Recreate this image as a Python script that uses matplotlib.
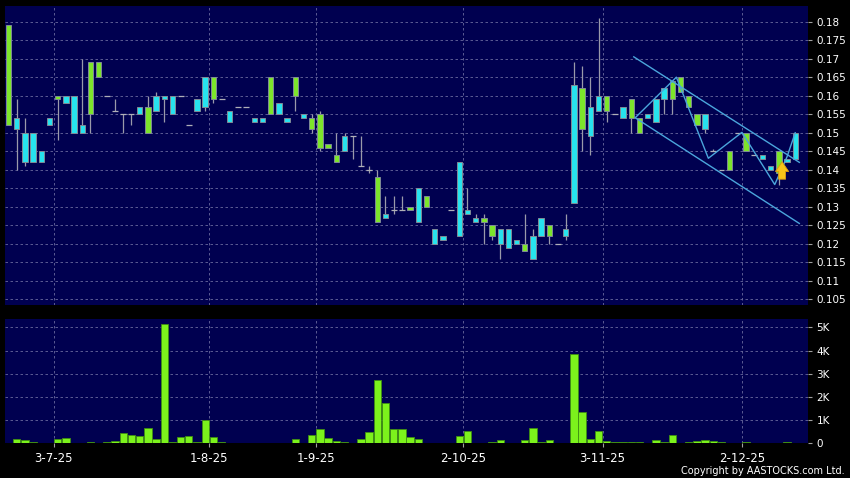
import numpy as np
import matplotlib
matplotlib.use("Agg")
import matplotlib.pyplot as plt

# daily candles (oldest first)
opens = [0.179, 0.151, 0.142, 0.142, 0.142, 0.152, 0.160, 0.158, 0.150, 0.150,
         0.169, 0.169, 0.160, 0.156, 0.155, 0.155, 0.155, 0.157, 0.156, 0.159,
         0.155, 0.160, 0.152, 0.156, 0.157, 0.165, 0.159, 0.153, 0.157, 0.157,
         0.153, 0.153, 0.165, 0.155, 0.153, 0.165, 0.154, 0.154, 0.155, 0.147,
         0.144, 0.145, 0.149, 0.141, 0.140, 0.138, 0.127, 0.129, 0.129, 0.130,
         0.126, 0.133, 0.120, 0.121, 0.129, 0.122, 0.128, 0.126, 0.127, 0.125,
         0.120, 0.119, 0.120, 0.120, 0.116, 0.122, 0.125, 0.120, 0.122, 0.131,
         0.162, 0.149, 0.156, 0.160, 0.155, 0.154, 0.159, 0.154, 0.154, 0.153,
         0.159, 0.164, 0.165, 0.160, 0.155, 0.151, 0.145, 0.140, 0.145, 0.150,
         0.150, 0.144, 0.143, 0.140, 0.145, 0.142, 0.143]
highs = [0.179, 0.159, 0.154, 0.150, 0.145, 0.154, 0.160, 0.160, 0.160, 0.170,
         0.169, 0.169, 0.160, 0.159, 0.155, 0.155, 0.157, 0.160, 0.161, 0.160,
         0.160, 0.160, 0.152, 0.159, 0.165, 0.165, 0.159, 0.156, 0.157, 0.157,
         0.154, 0.154, 0.165, 0.158, 0.154, 0.165, 0.155, 0.155, 0.156, 0.147,
         0.150, 0.150, 0.149, 0.149, 0.141, 0.140, 0.133, 0.133, 0.133, 0.130,
         0.135, 0.133, 0.124, 0.122, 0.129, 0.142, 0.135, 0.128, 0.128, 0.125,
         0.124, 0.124, 0.121, 0.128, 0.124, 0.127, 0.125, 0.120, 0.128, 0.169,
         0.168, 0.165, 0.181, 0.160, 0.155, 0.157, 0.159, 0.154, 0.155, 0.159,
         0.162, 0.164, 0.165, 0.160, 0.155, 0.155, 0.1455, 0.140, 0.145, 0.150,
         0.150, 0.144, 0.144, 0.141, 0.145, 0.143, 0.150]
lows = [0.152, 0.140, 0.141, 0.142, 0.142, 0.152, 0.148, 0.158, 0.150, 0.150,
        0.150, 0.165, 0.160, 0.156, 0.150, 0.152, 0.155, 0.150, 0.156, 0.153,
        0.155, 0.160, 0.152, 0.156, 0.156, 0.158, 0.159, 0.153, 0.157, 0.157,
        0.153, 0.153, 0.155, 0.155, 0.153, 0.156, 0.154, 0.150, 0.145, 0.146,
        0.142, 0.145, 0.143, 0.141, 0.139, 0.126, 0.127, 0.128, 0.129, 0.129,
        0.126, 0.130, 0.120, 0.121, 0.129, 0.122, 0.128, 0.126, 0.120, 0.121,
        0.116, 0.119, 0.120, 0.118, 0.116, 0.122, 0.120, 0.120, 0.121, 0.131,
        0.145, 0.144, 0.156, 0.153, 0.155, 0.154, 0.150, 0.150, 0.154, 0.153,
        0.155, 0.155, 0.161, 0.157, 0.152, 0.150, 0.145, 0.140, 0.140, 0.150,
        0.145, 0.144, 0.143, 0.140, 0.136, 0.142, 0.143]
closes = [0.152, 0.154, 0.150, 0.150, 0.145, 0.154, 0.159, 0.160, 0.160, 0.152,
          0.155, 0.165, 0.160, 0.156, 0.155, 0.155, 0.157, 0.150, 0.160, 0.160,
          0.160, 0.160, 0.152, 0.159, 0.165, 0.159, 0.159, 0.156, 0.157, 0.157,
          0.154, 0.154, 0.155, 0.158, 0.154, 0.160, 0.155, 0.151, 0.146, 0.146,
          0.142, 0.149, 0.149, 0.141, 0.140, 0.126, 0.128, 0.129, 0.129, 0.129,
          0.135, 0.130, 0.124, 0.122, 0.129, 0.142, 0.129, 0.127, 0.126, 0.122,
          0.124, 0.124, 0.121, 0.118, 0.122, 0.127, 0.122, 0.120, 0.124, 0.163,
          0.151, 0.157, 0.160, 0.156, 0.155, 0.157, 0.154, 0.150, 0.155, 0.159,
          0.162, 0.159, 0.161, 0.157, 0.152, 0.155, 0.145, 0.140, 0.140, 0.150,
          0.145, 0.144, 0.144, 0.141, 0.139, 0.143, 0.150]
# volume in thousands
volumes = [0, 0.19, 0.14, 0.06, 0.03, 0.01, 0.19, 0.25, 0, 0,
           0.06, 0.01, 0.06, 0.10, 0.43, 0.36, 0.30, 0.64, 0.17, 5.13,
           0.04, 0.26, 0.30, 0.04, 1.01, 0.28, 0.04, 0, 0, 0,
           0, 0, 0, 0.01, 0.03, 0.19, 0.03, 0.35, 0.62, 0.25,
           0.10, 0.07, 0.01, 0.20, 0.48, 2.72, 1.72, 0.62, 0.62, 0.28,
           0.20, 0, 0.02, 0, 0, 0.32, 0.55, 0.02, 0.02, 0.04,
           0.14, 0.03, 0, 0.14, 0.64, 0.04, 0.14, 0, 0.03, 3.83,
           1.33, 0.19, 0.51, 0.12, 0.07, 0.07, 0.04, 0.04, 0, 0.14,
           0.04, 0.36, 0, 0.04, 0.12, 0.13, 0.09, 0.06, 0, 0,
           0.04, 0, 0.03, 0, 0, 0.04, 0.03]

date_ticks = [5.5, 24.5, 37.5, 55.5, 72.5, 89.5]
date_labels = ["3-7-25", "1-8-25", "1-9-25", "2-10-25", "3-11-25", "2-12-25"]

# hand-drawn channel and zigzag (candle index, price)
chan_upper_x, chan_upper_y = [76.3, 96.5], [0.1705, 0.142]
chan_lower_x, chan_lower_y = [76.5, 96.5], [0.154, 0.1255]
zig_x = [76.5, 81.5, 85.4, 89.5, 93.5, 95.0, 96.0]
zig_y = [0.1541, 0.1650, 0.1431, 0.1501, 0.1360, 0.1435, 0.1500]
arrow_x, arrow_tip, arrow_base = 94.4, 0.1429, 0.1367

BG = "#000050"
UP = "#27e3ee"
DOWN = "#7de52b"
GRID = "#6a6a9e"

o = np.array(opens); h = np.array(highs); l = np.array(lows); c = np.array(closes)
x = np.arange(len(o))

fig = plt.figure(figsize=(8.5, 4.78), dpi=100, facecolor="black")
ax1 = fig.add_axes([5/850, 1-305/478, 803/850, 299/478])
ax2 = fig.add_axes([5/850, 1-443.3/478, 803/850, 124.3/478])

for ax in (ax1, ax2):
    ax.set_facecolor(BG)
    for s in ax.spines.values():
        s.set_visible(False)
    ax.set_xlim(-0.43, 97.56)
    ax.set_xticks(date_ticks)
    ax.grid(True, color=GRID, linestyle=(0, (3, 3)), linewidth=0.6)
    ax.set_axisbelow(True)
    ax.yaxis.tick_right()
    ax.tick_params(axis="y", colors="#a0a0a0", labelcolor="white", length=3,
                   width=0.8, pad=3, labelsize=7.5)

# price panel
ax1.vlines(x, l, h, color="#9a9aaa", linewidth=0.9, zorder=2)
body = c != o
cols = np.where(c > o, UP, DOWN)
ax1.bar(x[body], np.abs(c - o)[body], bottom=np.minimum(o, c)[body], width=0.66,
        color=cols[body], edgecolor="#7f8a96", linewidth=0.7, zorder=3)
ax1.hlines(c[~body], x[~body] - 0.36, x[~body] + 0.36, color="#b0b0b8",
           linewidth=0.9, zorder=3)

ax1.plot(chan_upper_x, chan_upper_y, color="#4ba6dc", lw=1, zorder=4)
ax1.plot(chan_lower_x, chan_lower_y, color="#4ba6dc", lw=1, zorder=4)
ax1.plot(zig_x, zig_y, color="#4ba6dc", lw=1, zorder=4)
ax1.annotate("", xy=(arrow_x, arrow_tip), xytext=(arrow_x, arrow_base),
             arrowprops=dict(arrowstyle="simple,head_width=0.95,head_length=0.7,tail_width=0.5",
                             fc="#f6c419", ec="#d99a10", lw=0.6, mutation_scale=10),
             zorder=5)

ax1.set_ylim(0.10347, 0.18423)
pticks = np.round(np.arange(0.105, 0.1801, 0.005), 3)
ax1.set_yticks(pticks)
ax1.set_yticklabels(["%g" % v for v in pticks])
ax1.tick_params(axis="x", bottom=False, labelbottom=False)

# volume panel
ax2.bar(x, volumes, width=0.9, color="#7cf21c", edgecolor="#3f8f12", linewidth=0.6, zorder=3)
ax2.set_ylim(0, 5.36)
ax2.set_yticks([0, 1, 2, 3, 4, 5])
ax2.set_yticklabels(["0", "1K", "2K", "3K", "4K", "5K"])
ax2.set_xticklabels(date_labels)
ax2.tick_params(axis="x", colors="#a0a0a0", labelcolor="white", length=3,
                width=0.8, pad=3, labelsize=8.5)

fig.text(0.994, 0.004, "Copyright by AASTOCKS.com Ltd.", color="white",
         fontsize=7, ha="right", va="bottom")

fig.savefig("out.png", dpi=100, facecolor="black")
